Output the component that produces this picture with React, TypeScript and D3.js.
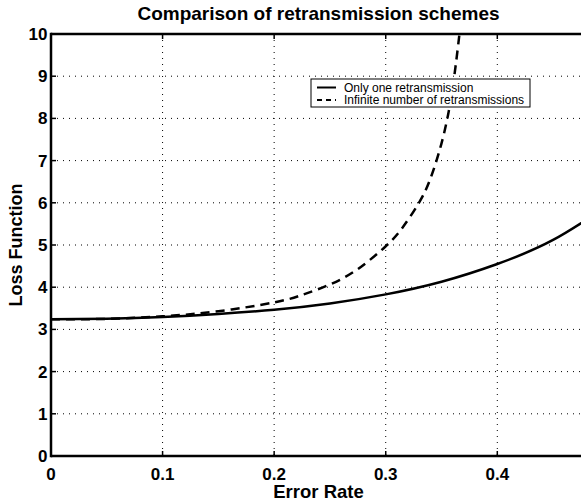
import React from "react";
import * as d3 from "d3";

const xTicks = [0, 0.1, 0.2, 0.3, 0.4];
const xTickLabels = ["0", "0.1", "0.2", "0.3", "0.4"];
const yTicks = [0, 1, 2, 3, 4, 5, 6, 7, 8, 9, 10];
const yTickLabels = ["0", "1", "2", "3", "4", "5", "6", "7", "8", "9", "10"];

const oneX = [0, 0.05, 0.1, 0.15, 0.2, 0.25, 0.3, 0.35, 0.4, 0.45, 0.5];
const oneY = [3.24, 3.255, 3.295, 3.365, 3.465, 3.615, 3.83, 4.13, 4.55, 5.12, 5.95];

const infX = [0, 0.05, 0.1, 0.15, 0.2, 0.225, 0.25, 0.275, 0.3, 0.315, 0.33, 0.34, 0.35, 0.36, 0.37];
const infY = [3.24, 3.25, 3.31, 3.43, 3.64, 3.815, 4.065, 4.43, 4.97, 5.41, 6.01, 6.57, 7.41, 8.73, 10.93];

const seriesNames = ["Only one retransmission", "Infinite number of retransmissions"];
const title = "Comparison of retransmission schemes";
const xLabel = "Error Rate";
const yLabel = "Loss Function";

const W = 581, H = 502;
const L = 51, T = 34, B = 456, R = 581;

export default function App() {
  const x = d3.scaleLinear().domain([0, 0.5]).range([L, L + 0.5 * 1115.75]);
  const y = d3.scaleLinear().domain([0, 10]).range([B, T]);
  const line = d3.line<[number, number]>().x(d => x(d[0])).y(d => y(d[1])).curve(d3.curveNatural);
  const one = oneX.map((v, i) => [v, oneY[i]] as [number, number]);
  const inf = infX.map((v, i) => [v, infY[i]] as [number, number]);
  const font = "'Liberation Sans', Arial, Helvetica, sans-serif";

  return (
    <svg width={W} height={H} style={{ position: "absolute", left: 0, top: 0, background: "#fff" }} fontFamily={font}>
      <defs>
        <clipPath id="plot"><rect x={L} y={T} width={R - L} height={B - T} /></clipPath>
      </defs>
      <rect x={0} y={0} width={W} height={H} fill="#fff" />
      {/* grid */}
      <g stroke="#000" strokeWidth={1} strokeDasharray="1,5">
        {xTicks.slice(1).map(t => (
          <line key={"gx" + t} x1={x(t)} x2={x(t)} y1={T} y2={B} />
        ))}
        {yTicks.slice(1, -1).map(t => (
          <line key={"gy" + t} x1={L} x2={R} y1={y(t)} y2={y(t)} />
        ))}
      </g>
      {/* tick marks */}
      <g stroke="#000" strokeWidth={1.5}>
        {xTicks.map(t => (
          <g key={"tx" + t}>
            <line x1={x(t)} x2={x(t)} y1={B} y2={B - 5} />
            <line x1={x(t)} x2={x(t)} y1={T} y2={T + 5} />
          </g>
        ))}
        {yTicks.map(t => (
          <line key={"ty" + t} x1={L} x2={L + 5} y1={y(t)} y2={y(t)} />
        ))}
      </g>
      {/* curves */}
      <g clipPath="url(#plot)" fill="none" stroke="#000" strokeWidth={2.5}>
        <path d={line(one) || ""} />
        <path d={line(inf) || ""} strokeDasharray="9,6" />
      </g>
      {/* axes box */}
      <g stroke="#000" strokeWidth={2.5}>
        <line x1={L} x2={R} y1={T} y2={T} />
        <line x1={L} x2={R} y1={B} y2={B} />
        <line x1={L} x2={L} y1={T - 1.25} y2={B + 1.25} />
      </g>
      {/* tick labels */}
      <g fontSize={17} fontWeight="bold" fill="#000">
        {xTicks.map((t, i) => (
          <text key={"lx" + t} x={x(t)} y={479.5} textAnchor="middle">{xTickLabels[i]}</text>
        ))}
        {yTicks.map((t, i) => (
          <text key={"ly" + t} x={47.5} y={y(t) + 6} textAnchor="end">{yTickLabels[i]}</text>
        ))}
      </g>
      {/* labels */}
      <text x={318.5} y={19.5} textAnchor="middle" fontSize={19} fontWeight="bold">{title}</text>
      <text x={318.5} y={497.5} textAnchor="middle" fontSize={18.5} fontWeight="bold">{xLabel}</text>
      <text transform={`translate(22,245) rotate(-90)`} textAnchor="middle" fontSize={18} fontWeight="bold">{yLabel}</text>
      {/* legend */}
      <g>
        <rect x={311} y={79} width={219} height={28} fill="#fff" stroke="#000" strokeWidth={1} />
        <line x1={317} x2={336} y1={87.5} y2={87.5} stroke="#000" strokeWidth={2} />
        <line x1={317} x2={336} y1={100} y2={100} stroke="#000" strokeWidth={2} strokeDasharray="5,4" />
        <text x={344} y={91.5} fontSize={12}>{seriesNames[0]}</text>
        <text x={344} y={104} fontSize={12}>{seriesNames[1]}</text>
      </g>
    </svg>
  );
}
